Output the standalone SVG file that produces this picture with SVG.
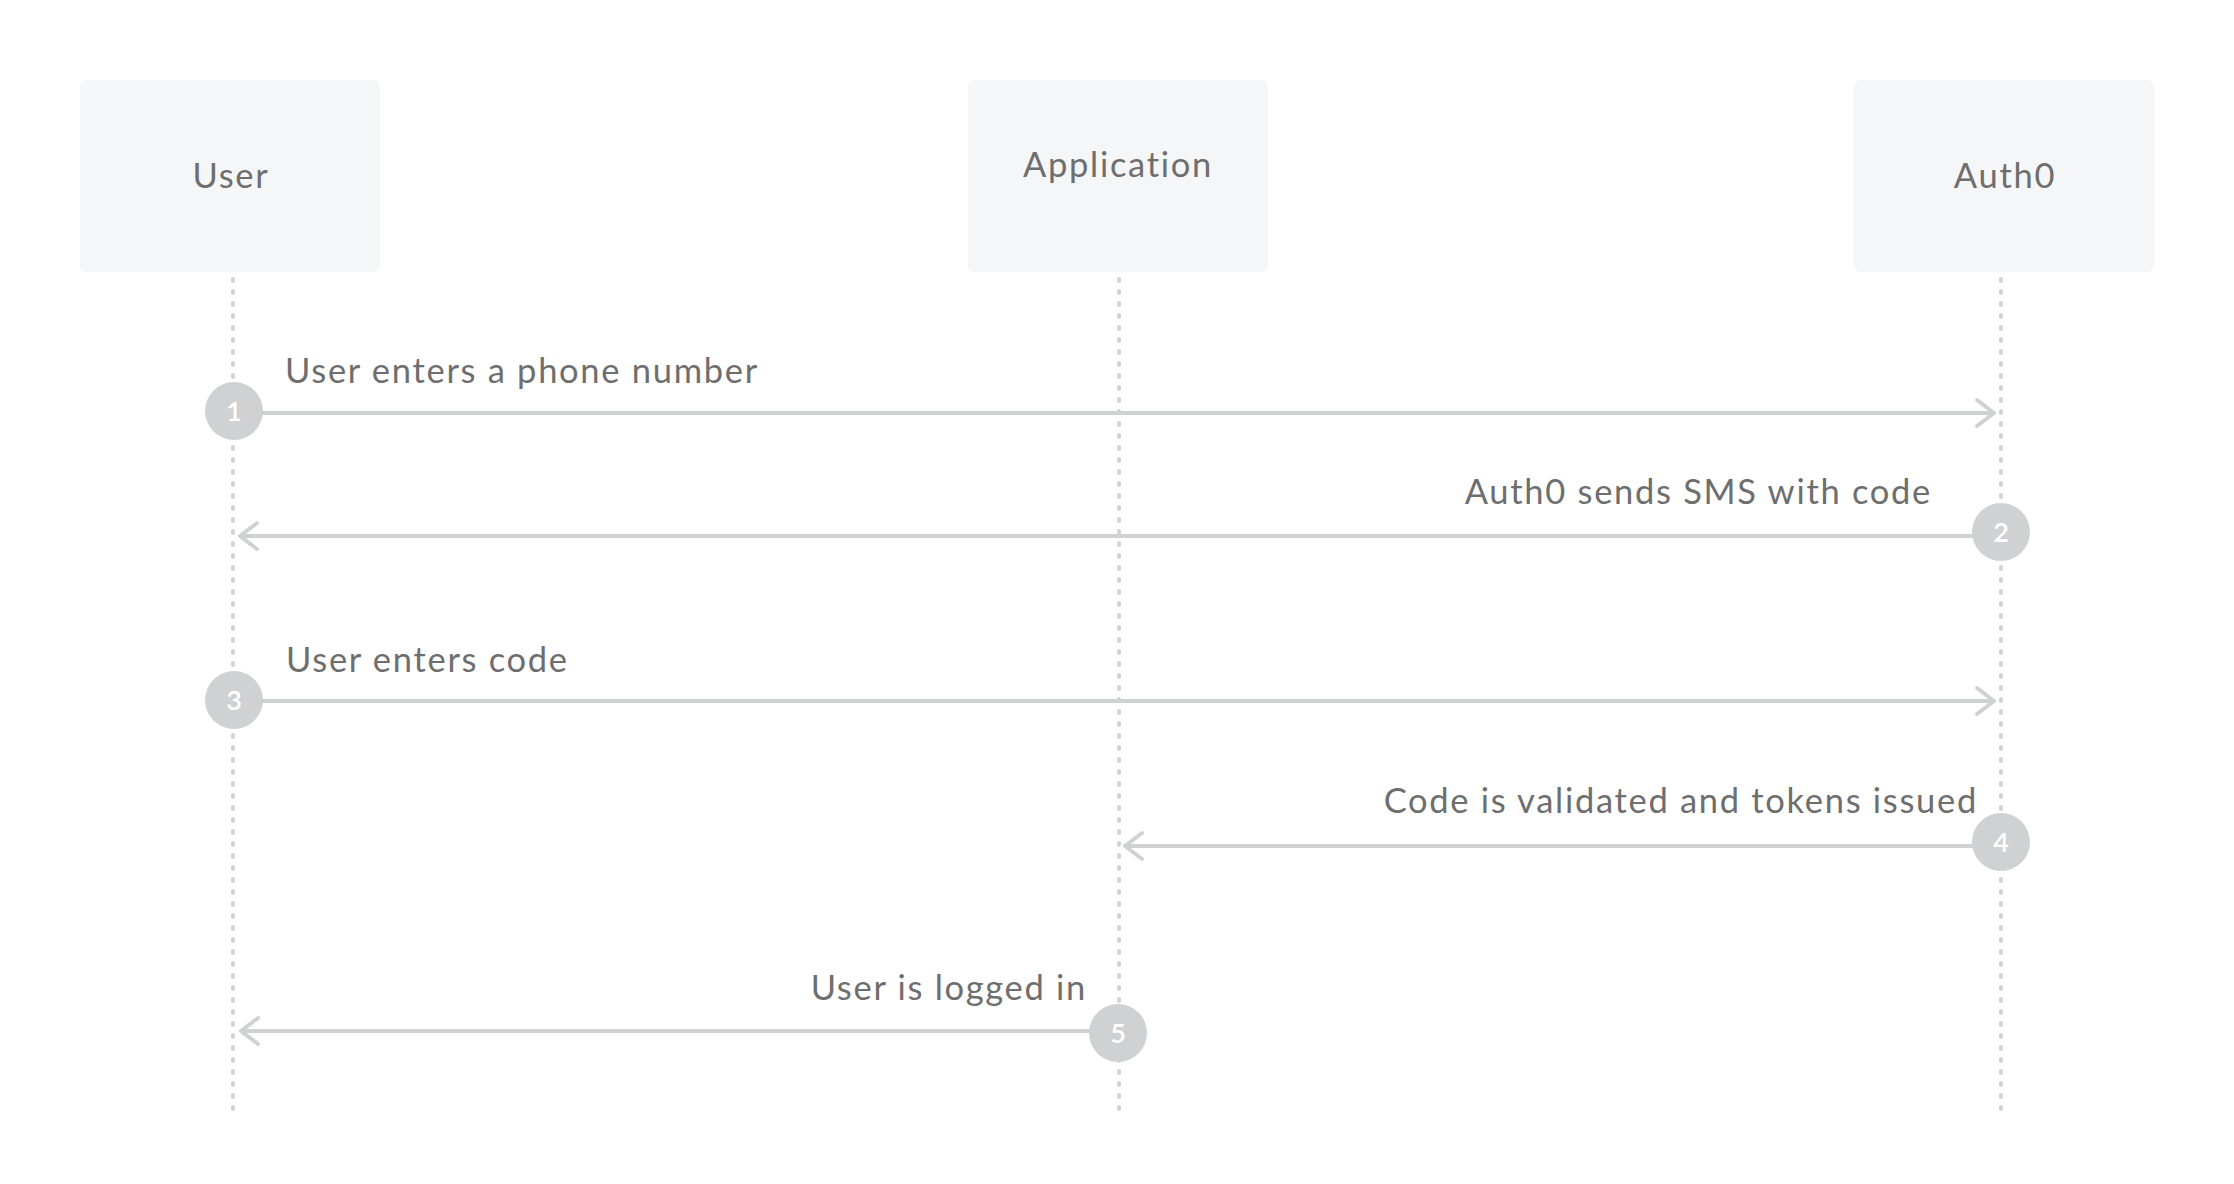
<svg xmlns="http://www.w3.org/2000/svg" width="2234" height="1184" viewBox="0 0 2234 1184">
  <style>
    .box { fill: #f5f6f8; }
    .label { font-family: Lato, "Noto Sans", sans-serif; font-size: 34.5px; letter-spacing: 1.7px; fill: #6e6e6e; }
    .life { stroke: #d3d3d5; stroke-width: 4; stroke-dasharray: 2 10; stroke-linecap: round; fill: none; }
    .msg { stroke: #d0d1d3; stroke-width: 4; fill: none; marker-end: url(#arrow); }
    .badge { fill: #d0d1d3; }
    .num { font-family: Lato, "Noto Sans", sans-serif; font-size: 27px; font-weight: 600; fill: #ffffff; text-anchor: middle; }
  </style>
  <defs>
    <marker id="arrow" markerUnits="userSpaceOnUse" markerWidth="30" markerHeight="36" viewBox="-22 -18 30 36" refX="0" refY="0" orient="auto" overflow="visible">
      <path d="M-17,-13 L0,0 L-17,13" fill="none" stroke="#d0d1d3" stroke-width="4" stroke-linecap="round" stroke-linejoin="round"/>
    </marker>
  </defs>
  <rect width="2234" height="1184" fill="#ffffff"/>

  <g id="node-user">
    <rect class="box" x="80" y="80" width="300" height="192" rx="7"/>
    <text class="label" x="231" y="188" text-anchor="middle">User</text>
  </g>
  <g id="node-application">
    <rect class="box" x="968" y="80" width="300" height="192" rx="7"/>
    <text class="label" x="1118" y="177" text-anchor="middle">Application</text>
  </g>
  <g id="node-auth0">
    <rect class="box" x="1854" y="80" width="300" height="192" rx="7"/>
    <text class="label" x="2005" y="188" text-anchor="middle">Auth0</text>
  </g>

  <g id="connectors">
    <line class="life" x1="233" y1="279" x2="233" y2="1115"/>
    <line class="life" x1="1119" y1="279" x2="1119" y2="1115"/>
    <line class="life" x1="2001" y1="279" x2="2001" y2="1115"/>

    <g id="step1">
      <line class="msg" x1="240" y1="413" x2="1994" y2="413"/>
      <circle class="badge" cx="234" cy="411" r="29"/>
      <text class="num" x="234" y="421">1</text>
      <text class="label" x="285" y="383">User enters a phone number</text>
    </g>
    <g id="step2">
      <line class="msg" x1="1995" y1="536" x2="240" y2="536"/>
      <circle class="badge" cx="2001" cy="532" r="29"/>
      <text class="num" x="2001" y="542">2</text>
      <text class="label" x="1932" y="504" text-anchor="end">Auth0 sends SMS with code</text>
    </g>
    <g id="step3">
      <line class="msg" x1="240" y1="701" x2="1994" y2="701"/>
      <circle class="badge" cx="234" cy="700" r="29"/>
      <text class="num" x="234" y="710">3</text>
      <text class="label" x="286" y="672">User enters code</text>
    </g>
    <g id="step4">
      <line class="msg" x1="1995" y1="846" x2="1125" y2="846"/>
      <circle class="badge" cx="2001" cy="842" r="29"/>
      <text class="num" x="2001" y="852">4</text>
      <text class="label" x="1978" y="813" text-anchor="end">Code is validated and tokens issued</text>
    </g>
    <g id="step5">
      <line class="msg" x1="1113" y1="1031" x2="241" y2="1031"/>
      <circle class="badge" cx="1118" cy="1033" r="29"/>
      <text class="num" x="1118" y="1043">5</text>
      <text class="label" x="1087" y="1000" text-anchor="end">User is logged in</text>
    </g>
  </g>
</svg>
